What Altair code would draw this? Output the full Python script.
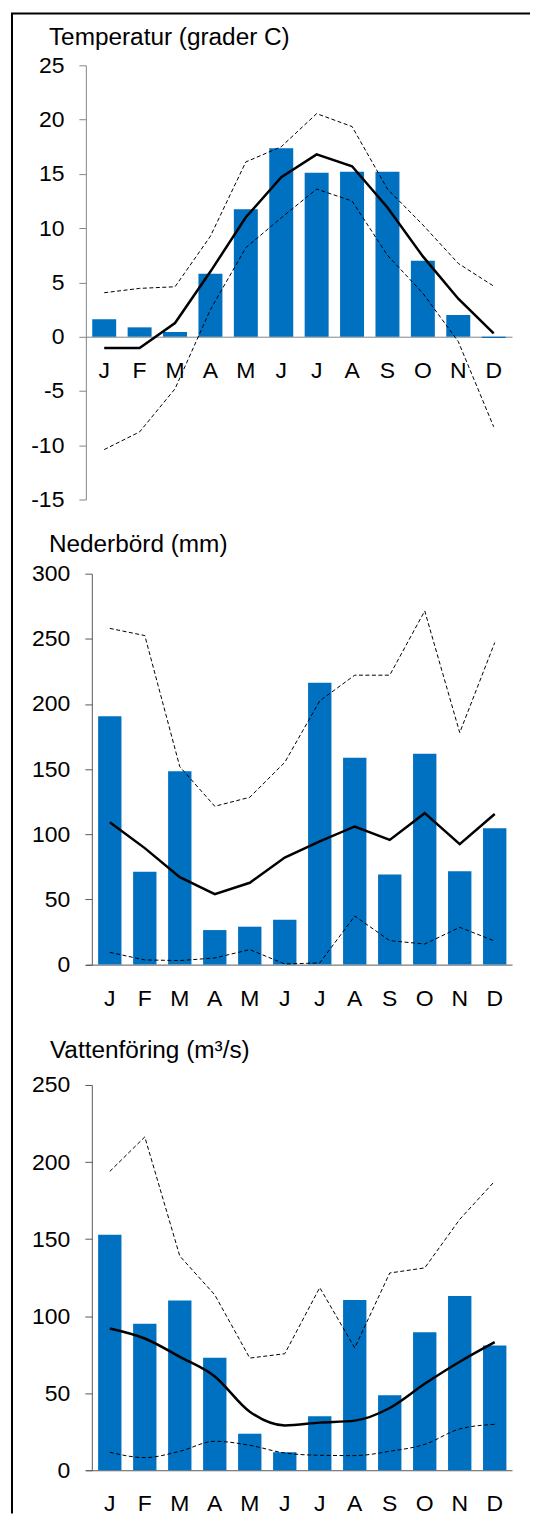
import json
import altair as alt
import pandas as pd

months = ["J", "F", "M", "A", "M", "J", "J", "A", "S", "O", "N", "D"]

# Temperatur (grader C)
temp_bar = [1.6, 0.86, 0.43, 5.8, 11.75, 17.36, 15.1, 15.2, 15.2, 7.0, 2.0, -0.12]
temp_mean = [-1.04, -1.04, 1.26, 6.0, 11.0, 14.7, 16.8, 15.7, 11.9, 7.4, 3.5, 0.3]
temp_upper = [4.05, 4.45, 4.6, 9.26, 16.1, 17.5, 20.55, 19.36, 13.6, 10.3, 6.75, 4.66]
temp_lower = [-10.4, -8.77, -4.8, 2.5, 8.2, 10.95, 13.6, 12.5, 7.5, 4.0, -0.45, -8.3]

# Nederbörd (mm)
prec_bar = [190.5, 71.2, 148.3, 26.5, 29.1, 34.5, 216.2, 158.8, 69.2, 161.9, 71.7, 104.7]
prec_mean = [109.3, 89.4, 67.1, 54.1, 62.8, 82.2, 94.5, 106.0, 95.7, 116.2, 92.4, 115.6]
prec_upper = [258.0, 252.5, 151.9, 121.5, 128.4, 155.2, 202.4, 222.1, 222.1, 271.4, 178.0, 247.1]
prec_lower = [9.4, 3.6, 3.1, 5.1, 11.5, 0.5, 1.3, 37.3, 18.4, 15.8, 28.6, 18.1]

# Vattenföring (m3/s)
flow_bar = [152.8, 95.0, 110.1, 73.0, 23.7, 11.7, 35.0, 110.5, 48.6, 89.6, 113.1, 81.0]
flow_mean = [92.0, 85.5, 73.6, 60.9, 38.0, 29.1, 30.9, 32.2, 40.4, 56.1, 70.4, 83.1]
flow_upper = [193.9, 216.3, 139.0, 113.8, 72.8, 75.6, 118.5, 79.4, 128.0, 131.3, 162.8, 187.6]
flow_lower = [11.7, 8.2, 12.3, 18.8, 16.2, 11.2, 9.7, 9.5, 12.3, 16.8, 26.8, 29.8]

titles = ["Temperatur (grader C)", "Nederbörd (mm)", "Vattenföring (m³/s)"]

FONT = "Liberation Sans"
BLUE = "#0070C0"
LABEL_EXPR = json.dumps(months) + "[datum.value - 1]"


def long_df(bar, mean, upper, lower):
    rows = []
    for name, vals in (("bar", bar), ("mean", mean), ("upper", upper), ("lower", lower)):
        for i, v in enumerate(vals):
            rows.append({"idx": i + 1, "series": name, "value": v})
    return pd.DataFrame(rows)


one = pd.DataFrame({"k": [0]})


def panel(df, title, domain, tick_values, height, yrange, pi, po, align,
          y_offset, x_offset, axis_color, title_x, title_y, smooth,
          month_pad=41, extra=None):
    x = alt.X(
        "idx:O",
        scale=alt.Scale(paddingInner=pi, paddingOuter=po, align=align),
        axis=alt.Axis(
            title=None, labelExpr=LABEL_EXPR, ticks=False, tickSize=0,
            domainColor=axis_color, domainWidth=1, labelAngle=0,
            labelFontSize=23, labelFont=FONT, labelColor="black",
            labelBaseline="alphabetic", labelPadding=month_pad, offset=x_offset,
        ),
    )
    sc = dict(domain=domain, nice=False)
    if yrange is not None:
        sc["range"] = yrange
    y = alt.Y(
        "value:Q",
        scale=alt.Scale(**sc),
        axis=alt.Axis(
            values=tick_values, grid=False, tickSize=7, tickColor=axis_color,
            domainColor=axis_color, labelFontSize=23, labelFont=FONT,
            labelColor="black", labelPadding=15, offset=y_offset,
            labelExpr="datum.value", title=None,
        ),
    )
    base = alt.Chart(df)
    bars = base.transform_filter("datum.series == 'bar'").mark_bar(color=BLUE).encode(x=x, y=y)
    mean = base.transform_filter("datum.series == 'mean'").mark_line(
        color="black", strokeWidth=2.5, interpolate="monotone" if smooth else "linear"
    ).encode(x=x, y=y)
    upper = base.transform_filter("datum.series == 'upper'").mark_line(
        color="black", strokeWidth=1, strokeDash=[4, 2.5]
    ).encode(x=x, y=y)
    lower = base.transform_filter("datum.series == 'lower'").mark_line(
        color="black", strokeWidth=1, strokeDash=[4, 2.5],
        interpolate="monotone" if smooth else "linear"
    ).encode(x=x, y=y)
    ttl = alt.Chart(one).mark_text(
        text=title, align="left", baseline="alphabetic", fontSize=24.4,
        font=FONT, color="black"
    ).encode(x=alt.value(title_x), y=alt.value(title_y))
    layers = [bars, upper, lower, mean, ttl]
    if extra:
        layers += extra
    return alt.layer(*layers).properties(width=427, height=height)


border_left = alt.Chart(one).mark_rule(color="black", strokeWidth=2).encode(
    x=alt.value(-74), y=alt.value(-52), y2=alt.value(1451)
)
border_top = alt.Chart(one).mark_rule(color="black", strokeWidth=2).encode(
    x=alt.value(-75), x2=alt.value(445), y=alt.value(-52)
)

p1 = panel(long_df(temp_bar, temp_mean, temp_upper, temp_lower),
           titles[0], [-15, 25], [-15, -10, -5, 0, 5, 10, 15, 20, 25],
           435, None, 0.323, 0.18, 0.5, 0, -163.1, "#868686", -37, -20, False,
           extra=[border_left, border_top])
p2 = panel(long_df(prec_bar, prec_mean, prec_upper, prec_lower),
           titles[1], [0, 300], [0, 50, 100, 150, 200, 250, 300],
           437.7, [391.7, 0], 0.333, 0.256, 0.685, -6, -46, "#595959", -37, -22, False)
p3 = panel(long_df(flow_bar, flow_mean, flow_upper, flow_lower),
           titles[2], [0, 250], [0, 50, 100, 150, 200, 250],
           386, None, 0.333, 0.256, 0.685, -6, 0, "#595959", -36, -27, True,
           month_pad=40)

chart = alt.vconcat(p1, p2, p3, spacing=74.3, bounds="flush").properties(
    padding={"left": 2, "top": 3, "right": 0, "bottom": 0},
    background="white",
).configure_view(stroke=None).configure_axis(domainWidth=1, tickWidth=1)

chart.save("out.html", embed_options={"renderer": "svg", "actions": False})
